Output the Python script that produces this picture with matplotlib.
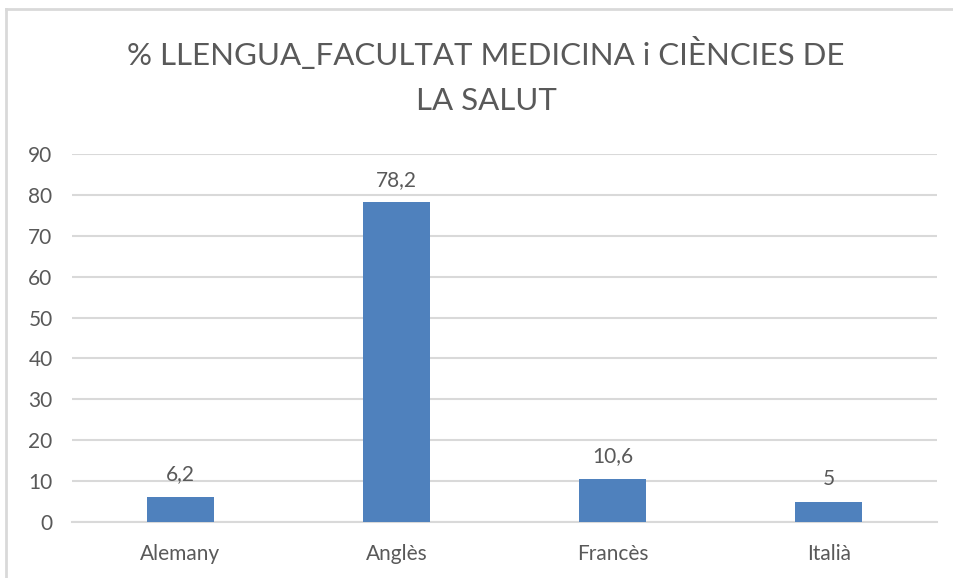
import matplotlib
matplotlib.use("Agg")
import matplotlib.pyplot as plt
from matplotlib.lines import Line2D

categories = ["Alemany", "Anglès", "Francès", "Italià"]
values = [6.2, 78.2, 10.6, 5]
value_labels = ["6,2", "78,2", "10,6", "5"]
yticks = [0, 10, 20, 30, 40, 50, 60, 70, 80, 90]
title = "% LLENGUA_FACULTAT MEDICINA i CIÈNCIES DE\nLA SALUT"

TEXT = "#595959"
GRID = "#d9d9d9"
BAR = "#4f81bd"
FONT = ["Lato", "DejaVu Sans"]

plt.rcParams["font.family"] = FONT

fig = plt.figure(figsize=(9.54, 5.78), dpi=100)
ax = fig.add_axes([72 / 954, 1 - 522 / 578, (937 - 72) / 954, (522 - 154) / 578])

x = list(range(len(categories)))
ax.bar(x, values, width=0.31, color=BAR, zorder=3)
ax.set_xlim(-0.5, len(categories) - 0.5)
ax.set_ylim(0, 90)
ax.set_yticks(yticks)
ax.set_xticks(x)
ax.set_xticklabels(categories)
ax.yaxis.grid(True, color=GRID, linewidth=1.5, zorder=0)
ax.tick_params(axis="both", length=0, labelsize=15, colors=TEXT)
ax.tick_params(axis="y", pad=14)
ax.tick_params(axis="x", pad=16)
for side in ["top", "right", "left"]:
    ax.spines[side].set_visible(False)
ax.spines["bottom"].set_color(GRID)
ax.spines["bottom"].set_linewidth(1.5)

for xi, v, lab in zip(x, values, value_labels):
    ax.annotate(lab, (xi, v), xytext=(0, 9), textcoords="offset points",
                ha="center", va="bottom", fontsize=15, color=TEXT)

fig.text(486 / 954, 1 - 76 / 578, title, ha="center", va="center",
         fontsize=22.5, color=TEXT, linespacing=1.7)

# chart border
fig.add_artist(Line2D([6.5 / 954, 6.5 / 954], [0, 1 - 9 / 578],
                      transform=fig.transFigure, color=GRID, linewidth=2))
fig.add_artist(Line2D([6.5 / 954, 1], [1 - 9 / 578, 1 - 9 / 578],
                      transform=fig.transFigure, color=GRID, linewidth=2))

fig.savefig("out.png", dpi=100)
